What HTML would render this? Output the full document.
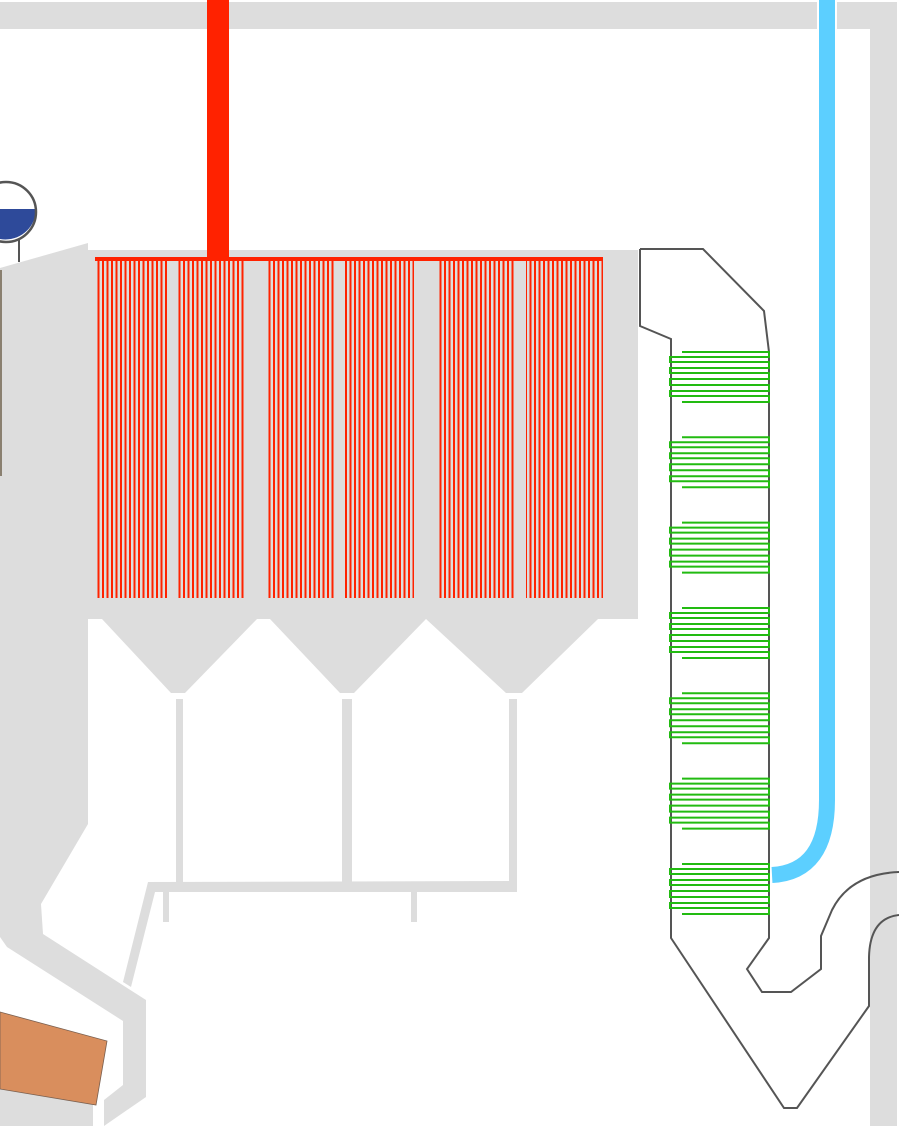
<!DOCTYPE html>
<html><head><meta charset="utf-8"><style>html,body{margin:0;padding:0;background:#fff}svg{display:block}</style></head>
<body>
<svg width="899" height="1126" viewBox="0 0 899 1126" xmlns="http://www.w3.org/2000/svg">
<defs>
<pattern id="tb" x="97" y="0" width="4.5" height="10" patternUnits="userSpaceOnUse">
<rect x="0.5" y="0" width="2" height="10" fill="#ff2200"/>
</pattern>
</defs>
<rect x="0" y="2" width="817" height="27" fill="#dddddd"/>
<rect x="837" y="2" width="60" height="27" fill="#dddddd"/>
<rect x="870" y="2" width="27" height="1124" fill="#dddddd"/>
<polygon fill="#dddddd" points="0,268 88,243 88,824 41,904 43,934 146,1000 146,1097 104,1126 104,1126 104,1100 123,1085 123,1021 7,947 0,937"/>
<line x1="1" y1="270" x2="1" y2="476" stroke="#8a8070" stroke-width="2"/>
<polygon fill="#dddddd" points="0,1089 93,1100 93,1126 0,1126"/>
<polygon fill="#d98e5d" stroke="#7a6050" stroke-width="0.8" points="0,1012 107,1041 96,1105 0,1089"/>
<polygon fill="#dddddd" points="88,250 638,250 638,619 598,619 522,693 506,693 426,619 354,693 340,693 270,619 257,619 185,693 171,693 102,619 88,619"/>
<g fill="#dddddd">
<rect x="176" y="699" width="7" height="185"/>
<rect x="342" y="699" width="10" height="185"/>
<rect x="509" y="699" width="8" height="193"/>
<polygon points="148,882 517,881 517,892 155,892 131,987 123,982"/>
<rect x="163" y="892" width="6" height="30"/>
<rect x="411" y="892" width="6" height="30"/>
</g>
<line x1="19" y1="240" x2="19" y2="262" stroke="#555" stroke-width="2"/>
<path d="M -25 209 L 36 209 A 30 30 0 0 1 -25 209 Z" fill="#2e4a9a"/>
<circle cx="6" cy="212" r="30" fill="none" stroke="#555" stroke-width="2.5"/>
<rect x="207" y="0" width="22" height="260" fill="#ff2200"/>
<rect x="95" y="257" width="508" height="4" fill="#ff2200"/>
<g fill="url(#tb)">
<rect x="97" y="261" width="70" height="337"/>
<rect x="177" y="261" width="68" height="337"/>
<rect x="266" y="261" width="69" height="337"/>
<rect x="345" y="261" width="69" height="337"/>
<rect x="438" y="261" width="78" height="337"/>
<rect x="526" y="261" width="77" height="337"/>
</g>
<path d="M827 0 L827 800 Q827 872 772 875" fill="none" stroke="#5ccfff" stroke-width="16"/>
<path d="M640 249 L703 249 L764 311 L769 352 L769 938 L747 969 L762 992 L791 992 L821 969 L821 936 L832 910 Q850 874 899 872" fill="none" stroke="#555" stroke-width="2"/>
<path d="M899 915 Q870 918 869 957 L869 1006 L797 1108 L784 1108 L671 938 L671 339 L640 326 L640 249" fill="none" stroke="#555" stroke-width="2"/>
<g id="coil" fill="none" stroke="#22bb11" stroke-width="2">
<path d="M682 352 L769 352 L769 357 L670 357 L670 362 L769 362 L769 368 L670 368 L670 373 L769 373 L769 379 L670 379 L670 385 L769 385 L769 391 L670 391 L670 396 L769 396 L769 402 L682 402"/>
</g>
<use href="#coil" y="85.3"/>
<use href="#coil" y="170.6"/>
<use href="#coil" y="256"/>
<use href="#coil" y="341.3"/>
<use href="#coil" y="426.6"/>
<use href="#coil" y="512"/>
</svg>
</body></html>
